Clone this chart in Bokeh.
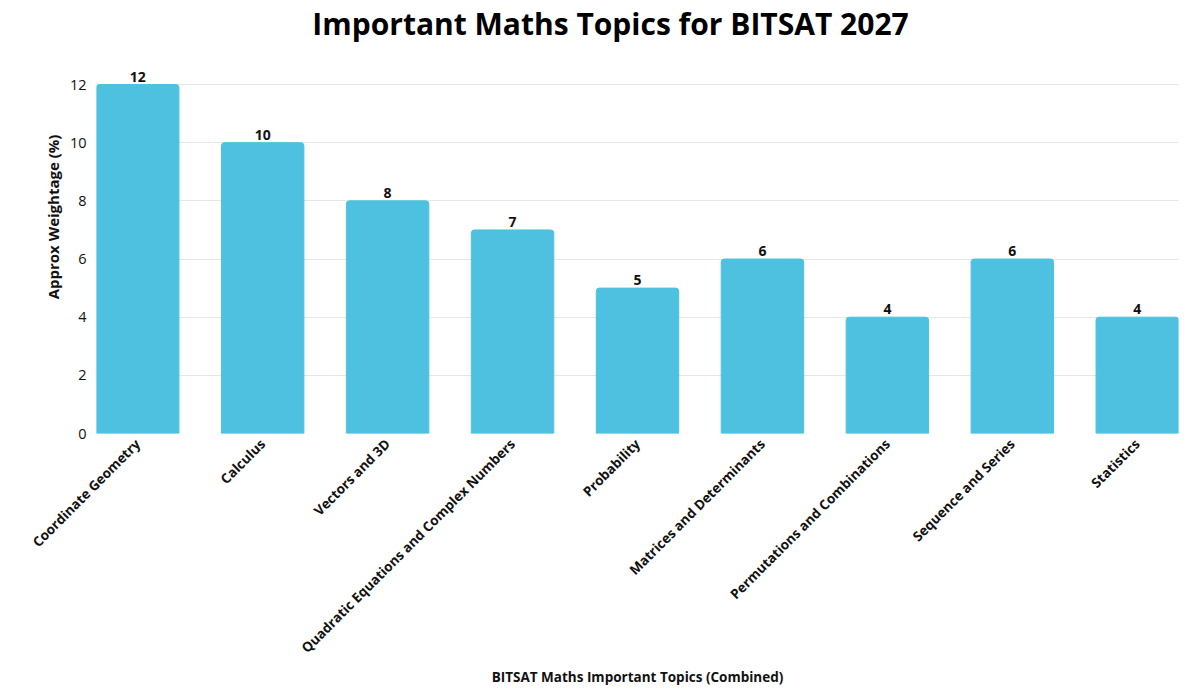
from bokeh.plotting import figure
from bokeh.models import ColumnDataSource, Range1d, FixedTicker, Label
from bokeh.core.properties import value
from bokeh.embed import file_html
from bokeh.resources import INLINE
from math import pi

# data
topics = [
    "Coordinate Geometry",
    "Calculus",
    "Vectors and 3D",
    "Quadratic Equations and Complex Numbers",
    "Probability",
    "Matrices and Determinants",
    "Permutations and Combinations",
    "Sequence and Series",
    "Statistics",
]
weightage = [12, 10, 8, 7, 5, 6, 4, 6, 4]
y_ticks = [0, 2, 4, 6, 8, 10, 12]

BAR = "#4FC1E0"
FONT = "Open Sans"
W, H = 1200, 690
LEFT, RIGHT, TOP, BOTTOM = 96, 22, 0, 257

idx = list(range(len(topics)))
source = ColumnDataSource(dict(
    x=idx,
    top=weightage,
    label=[str(v) for v in weightage],
))

# the frame runs up to the top edge so the title can sit inside it;
# only the ticks 0..12 get grid lines
p = figure(width=W, height=H,
           x_range=Range1d(-0.33, len(topics) - 1 + 0.33),
           y_range=Range1d(0, 14.89),
           output_backend="svg", toolbar_location=None,
           min_border_left=LEFT, min_border_right=RIGHT,
           min_border_top=TOP, min_border_bottom=BOTTOM)

p.vbar(x="x", top="top", width=0.66, bottom=0, source=source,
       fill_color=BAR, line_color=BAR, border_radius=(3, 3, 0, 0))

p.text(x="x", y="top", text="label", source=source,
       text_align="center", text_baseline="bottom", y_offset=-3,
       text_font=value(FONT), text_font_style="bold",
       text_font_size="14px", text_color="#111111")

p.outline_line_color = None
p.xgrid.grid_line_color = None
p.ygrid.grid_line_color = "#e6e6e6"
p.ygrid.ticker = FixedTicker(ticks=y_ticks)

p.yaxis.ticker = FixedTicker(ticks=y_ticks)
p.yaxis.axis_label = "Approx Weightage (%)"
p.yaxis.axis_line_color = None
p.yaxis.major_tick_line_color = None
p.yaxis.minor_tick_line_color = None
p.yaxis.major_label_standoff = 4
p.yaxis.major_label_text_font = FONT
p.yaxis.major_label_text_font_size = "14.5px"
p.yaxis.major_label_text_color = "#111111"
p.yaxis.axis_label_text_font = FONT
p.yaxis.axis_label_text_font_style = "bold"
p.yaxis.axis_label_text_font_size = "15px"
p.yaxis.axis_label_text_color = "#111111"
p.yaxis.axis_label_standoff = 4

p.xaxis.ticker = FixedTicker(ticks=idx)
p.xaxis.major_label_overrides = {i: t for i, t in zip(idx, topics)}
p.xaxis.major_label_orientation = pi / 4
p.xaxis.axis_label = "BITSAT Maths Important Topics (Combined)"
p.xaxis.axis_line_color = None
p.xaxis.major_tick_line_color = None
p.xaxis.minor_tick_line_color = None
p.xaxis.major_label_standoff = 2
p.xaxis.major_label_text_font = FONT
p.xaxis.major_label_text_font_style = "bold"
p.xaxis.major_label_text_font_size = "13.5px"
p.xaxis.major_label_text_color = "#111111"
p.xaxis.axis_label_text_font = FONT
p.xaxis.axis_label_text_font_style = "bold"
p.xaxis.axis_label_text_font_size = "13.5px"
p.xaxis.axis_label_text_color = "#111111"
p.xaxis.axis_label_standoff = 2

# chart title; screen units count from the frame's bottom-left
frame_bottom = H - BOTTOM
p.add_layout(Label(x=610 - LEFT, y=frame_bottom - 23,
                   x_units="screen", y_units="screen",
                   text="Important Maths Topics for BITSAT 2027",
                   text_align="center", text_baseline="alphabetic",
                   text_font=FONT, text_font_style="bold",
                   text_font_size="30px", text_color="#000000"))

open("out.html", "w").write(file_html(p, INLINE))
